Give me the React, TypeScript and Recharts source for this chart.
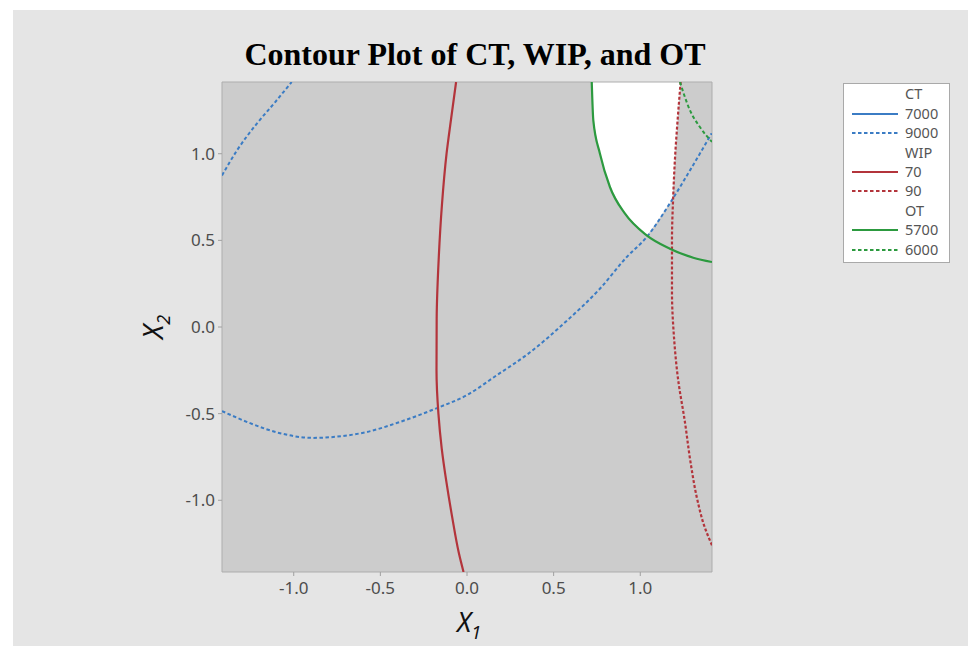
import React from 'react';
import { ComposedChart, XAxis, YAxis, Line, Area, CartesianGrid, ReferenceArea, Legend } from 'recharts';

const TITLE = 'Contour Plot of CT, WIP, and OT';
const X_TICKS = [-1, -0.5, 0, 0.5, 1];
const Y_TICKS = [-1, -0.5, 0, 0.5, 1];
const LIM = 1.414;

// CT = 9000 contour, upper-left piece
const ct9000Upper = [
  { x: -1.414, y: 0.875 },
  { x: -1.327, y: 1.02 },
  { x: -1.212, y: 1.175 },
  { x: -1.108, y: 1.297 },
  { x: -1.012, y: 1.414 },
];

// CT = 9000 contour, long piece
const ct9000Lower = [
  { x: -1.414, y: -0.485 },
  { x: -1.252, y: -0.555 },
  { x: -1.079, y: -0.613 },
  { x: -0.889, y: -0.64 },
  { x: -0.716, y: -0.629 },
  { x: -0.579, y: -0.606 },
  { x: -0.387, y: -0.548 },
  { x: -0.166, y: -0.465 },
  { x: -0.002, y: -0.394 },
  { x: 0.171, y: -0.279 },
  { x: 0.364, y: -0.146 },
  { x: 0.566, y: 0.027 },
  { x: 0.768, y: 0.222 },
  { x: 0.922, y: 0.404 },
  { x: 1.037, y: 0.519 },
  { x: 1.171, y: 0.714 },
  { x: 1.287, y: 0.904 },
  { x: 1.412, y: 1.118 },
];

// WIP = 70 (bottom to top)
const wip70 = [
  { x: -0.02, y: -1.414 },
  { x: -0.048, y: -1.3 },
  { x: -0.085, y: -1.1 },
  { x: -0.118, y: -0.9 },
  { x: -0.146, y: -0.7 },
  { x: -0.165, y: -0.5 },
  { x: -0.176, y: -0.25 },
  { x: -0.175, y: 0.05 },
  { x: -0.163, y: 0.4 },
  { x: -0.145, y: 0.7 },
  { x: -0.118, y: 1.0 },
  { x: -0.092, y: 1.2 },
  { x: -0.063, y: 1.414 },
];

// WIP = 90 (bottom to top)
const wip90 = [
  { x: 1.414, y: -1.26 },
  { x: 1.37, y: -1.15 },
  { x: 1.33, y: -1.0 },
  { x: 1.29, y: -0.78 },
  { x: 1.258, y: -0.55 },
  { x: 1.218, y: -0.3 },
  { x: 1.194, y: -0.05 },
  { x: 1.183, y: 0.2 },
  { x: 1.183, y: 0.5 },
  { x: 1.19, y: 0.75 },
  { x: 1.202, y: 1.0 },
  { x: 1.216, y: 1.2 },
  { x: 1.233, y: 1.414 },
];

// OT = 5700
const ot5700 = [
  { x: 0.72, y: 1.414 },
  { x: 0.729, y: 1.193 },
  { x: 0.767, y: 1.002 },
  { x: 0.825, y: 0.808 },
  { x: 0.912, y: 0.654 },
  { x: 1.037, y: 0.529 },
  { x: 1.171, y: 0.452 },
  { x: 1.306, y: 0.4 },
  { x: 1.414, y: 0.375 },
];

// OT = 6000
const ot6000 = [
  { x: 1.229, y: 1.414 },
  { x: 1.287, y: 1.25 },
  { x: 1.344, y: 1.154 },
  { x: 1.414, y: 1.068 },
];

// Feasible (white) region: [lower, upper] X2 for each X1
const feasibleX = [0.72, 0.729, 0.767, 0.825, 0.912, 1.037, 1.1, 1.186, 1.202, 1.216, 1.233];
const feasibleLow = [1.414, 1.193, 1.002, 0.808, 0.654, 0.525, 0.611, 0.738, 1.0, 1.2, 1.414];
const feasibleData = feasibleX.map((x, i) => ({ x, r: [feasibleLow[i], LIM] }));

const BLUE = '#3b7cc4';
const RED = '#b3343b';
const GREEN = '#2c9a3f';

const legendGroups = [
  { title: 'CT', items: [{ label: '7000', color: BLUE, dotted: false }, { label: '9000', color: BLUE, dotted: true }] },
  { title: 'WIP', items: [{ label: '70', color: RED, dotted: false }, { label: '90', color: RED, dotted: true }] },
  { title: 'OT', items: [{ label: '5700', color: GREEN, dotted: false }, { label: '6000', color: GREEN, dotted: true }] },
];

const fmt = (v: number) => v.toFixed(1);
const tickStyle = { fill: '#4d4d4d', fontSize: 17, fontFamily: 'Noto Sans' };

const LegendBox = () => {
  const rows: any[] = [];
  legendGroups.forEach((g) => {
    rows.push({ header: true, label: g.title });
    g.items.forEach((it) => rows.push({ header: false, ...it }));
  });
  return (
    <div
      style={{
        position: 'relative',
        width: 107,
        height: 180,
        boxSizing: 'border-box',
        border: '1px solid #a9a9a9',
        background: '#ffffff',
        fontFamily: 'Noto Sans',
        fontSize: 14.5,
        color: '#555',
      }}
    >
      {rows.map((r, i) => (
        <div key={i} style={{ position: 'absolute', left: 0, top: 0.3 + i * 19.4, height: 19.4, width: 105, lineHeight: '19.4px' }}>
          {!r.header && (
            <svg width={48} height={19} style={{ position: 'absolute', left: 7, top: 0 }}>
              <line
                x1={1}
                x2={47}
                y1={10}
                y2={10}
                stroke={r.color}
                strokeWidth={2.2}
                strokeDasharray={r.dotted ? '3.5 2.5' : undefined}
              />
            </svg>
          )}
          <span style={{ position: 'absolute', left: 61, top: 0 }}>{r.label}</span>
        </div>
      ))}
    </div>
  );
};

const XLabel = (props: any) => {
  const vb = props.viewBox || { x: 209, y: 562, width: 490 };
  const cx = vb.x + vb.width / 2 + 2;
  return (
    <text x={cx} y={vb.y + 60} textAnchor="middle" fontFamily="Noto Sans" fontStyle="italic" fontSize={27} fill="#111">
      <tspan>X</tspan>
      <tspan fontSize={18} dy={7}>1</tspan>
    </text>
  );
};

const YLabel = (props: any) => {
  const vb = props.viewBox || { x: 149, y: 72, width: 60, height: 490 };
  const bx = vb.x + vb.width - 59;
  const cy = vb.y + vb.height / 2 + 0;
  return (
    <text
      x={bx}
      y={cy}
      transform={`rotate(-90, ${bx}, ${cy})`}
      textAnchor="middle"
      fontFamily="Noto Sans"
      fontStyle="italic"
      fontSize={27}
      fill="#111"
    >
      <tspan>X</tspan>
      <tspan fontSize={18} dy={7}>2</tspan>
    </text>
  );
};

export default function App() {
  return (
    <div style={{ position: 'absolute', left: 13, top: 10, width: 955, height: 636, background: '#e5e5e5', overflow: 'hidden' }}>
      <div
        style={{
          position: 'absolute',
          left: 0,
          top: 28,
          width: 924,
          textAlign: 'center',
          fontFamily: 'Liberation Serif',
          fontWeight: 'bold',
          fontSize: 32,
          lineHeight: 1,
          color: '#000',
        }}
      >
        {TITLE}
      </div>
      <ComposedChart width={955} height={636} margin={{ top: 72, right: 256, bottom: 44, left: 149 }}>
        <CartesianGrid fill="#cccccc" horizontal={false} vertical={false} stroke="none" />
        <XAxis
          type="number"
          dataKey="x"
          domain={[-LIM, LIM]}
          ticks={X_TICKS}
          tickFormatter={fmt}
          allowDataOverflow
          axisLine={false}
          tickLine={{ stroke: '#a0a0a0' }}
          tickSize={4}
          tickMargin={6}
          height={30}
          tick={tickStyle}
          label={<XLabel />}
        />
        <YAxis
          type="number"
          domain={[-LIM, LIM]}
          ticks={Y_TICKS}
          tickFormatter={fmt}
          allowDataOverflow
          axisLine={false}
          tickLine={{ stroke: '#a0a0a0' }}
          tickSize={4}
          tickMargin={3}
          width={60}
          tick={tickStyle}
          label={<YLabel />}
        />
        <Area
          data={feasibleData}
          dataKey="r"
          type="linear"
          fill="#ffffff"
          fillOpacity={1}
          stroke="none"
          isAnimationActive={false}
          dot={false}
          activeDot={false}
        />
        <Line data={ct9000Upper} dataKey="y" type="monotoneX" stroke={BLUE} strokeWidth={2} strokeDasharray="3.5 2.5" dot={false} activeDot={false} isAnimationActive={false} />
        <Line data={ct9000Lower} dataKey="y" type="monotoneX" stroke={BLUE} strokeWidth={2} strokeDasharray="3.5 2.5" dot={false} activeDot={false} isAnimationActive={false} />
        <Line data={wip70} dataKey="y" type="monotoneY" stroke={RED} strokeWidth={2.2} dot={false} activeDot={false} isAnimationActive={false} />
        <Line data={wip90} dataKey="y" type="monotoneY" stroke={RED} strokeWidth={2.2} strokeDasharray="3 2" dot={false} activeDot={false} isAnimationActive={false} />
        <Line data={ot5700} dataKey="y" type="monotoneX" stroke={GREEN} strokeWidth={2.2} dot={false} activeDot={false} isAnimationActive={false} />
        <Line data={ot6000} dataKey="y" type="monotoneX" stroke={GREEN} strokeWidth={2} strokeDasharray="3.5 2.5" dot={false} activeDot={false} isAnimationActive={false} />
        <ReferenceArea x1={-LIM} x2={LIM} y1={-LIM} y2={LIM} fill="none" stroke="#adadad" strokeWidth={1} />
        <Legend
          layout="horizontal"
          align="center"
          verticalAlign="middle"
          wrapperStyle={{ left: 830, top: 73, width: 107, height: 180 }}
          content={() => <LegendBox />}
        />
      </ComposedChart>
    </div>
  );
}
